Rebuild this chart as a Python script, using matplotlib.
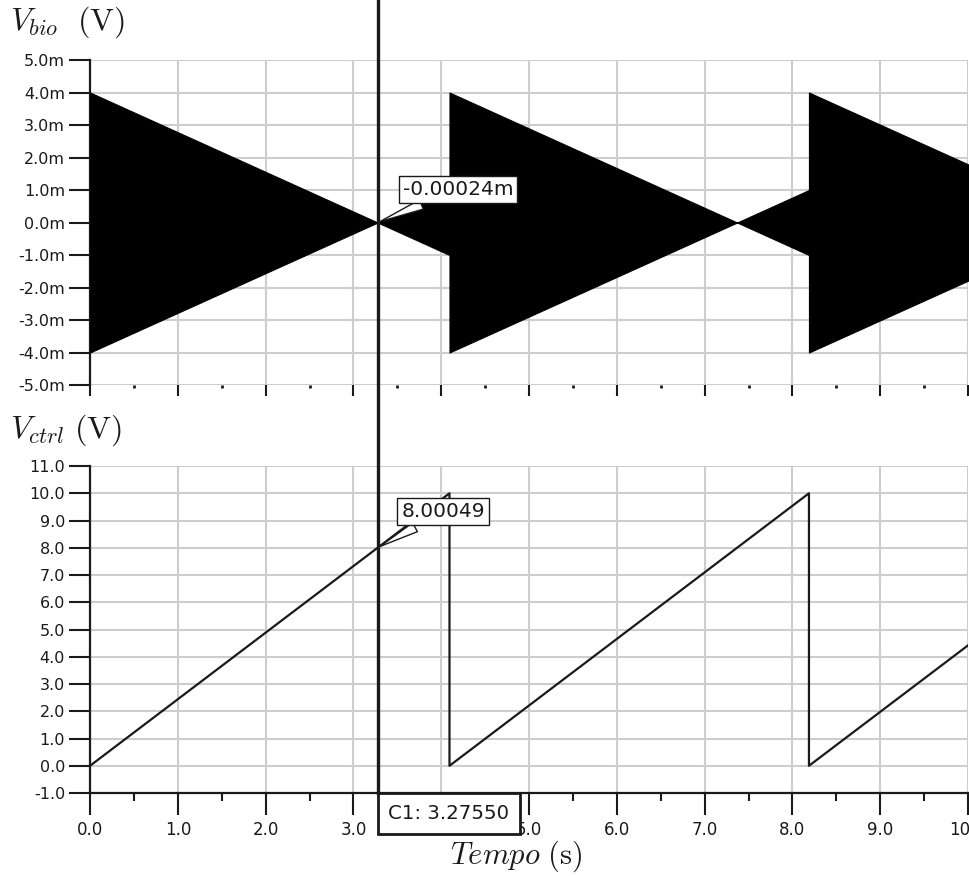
import numpy as np
import matplotlib
matplotlib.use("Agg")
import matplotlib.pyplot as plt
import matplotlib.transforms as mtransforms
from matplotlib.lines import Line2D

plt.rcParams['mathtext.fontset'] = 'cm'

# envelope of V_bio (amplitude in mV) at its break points
t_env = [0.0, 3.2755, 4.094, 4.094, 7.37, 8.188, 8.188, 10.0]
amp_env = [4.0, 0.0, 1.0, 4.0, 0.0, 1.0, 4.0, 1.79]

# V_ctrl sawtooth break points
t_ctrl = [0.0, 4.094, 4.094, 8.188, 8.188, 10.0]
v_ctrl = [0.0, 10.0, 0.0, 10.0, 0.0, 4.42]

cursor_t = 3.2755
cursor_vbio = -0.00024
cursor_vctrl = 8.00049

bio_ticks = np.arange(-5, 6, 1)
ctrl_ticks = np.arange(-1, 12, 1)
x_ticks = np.arange(0, 11, 1)

dark = '#1a1a1a'
grid_c = '#cdcdcd'

fig = plt.figure(figsize=(9.7, 8.76), dpi=100)
ax1 = fig.add_axes([0.0928, 0.5605, 0.9052, 0.371])
ax2 = fig.add_axes([0.0928, 0.0947, 0.9052, 0.3733])

# --- top: V_bio
t = np.array(t_env)
a = np.array(amp_env)
ax1.fill_between(t, -a, a, color='black', lw=0.8, edgecolor='black', zorder=3)
ax1.set_xlim(0, 10)
ax1.set_ylim(-5, 5)
ax1.set_yticks(bio_ticks)
ax1.set_yticklabels([f"{v:.1f}m" for v in bio_ticks])
ax1.set_xticks(x_ticks)
ax1.set_xticklabels([])
ax1.set_xticks(x_ticks[:-1] + 0.5, minor=True)
ax1.tick_params(axis='y', length=15, width=1.5, color=dark, labelsize=11.5,
                labelcolor=dark, pad=3)
ax1.tick_params(axis='x', which='major', length=8, width=1.5, color=dark)
ax1.tick_params(axis='x', which='minor', length=2.5, width=2, color=dark)
for s in ['top', 'right', 'bottom']:
    ax1.spines[s].set_visible(False)
ax1.spines['left'].set_linewidth(1.6)
ax1.spines['left'].set_color(dark)
ax1.grid(True, color=grid_c, lw=1.5)
ax1.set_axisbelow(True)

ax1.annotate(f"{cursor_vbio:.5f}m", xy=(cursor_t, cursor_vbio),
             xytext=(18, 17), textcoords='offset points', ha='left', va='bottom',
             fontsize=14.5, color=dark, zorder=6,
             bbox=dict(boxstyle='square,pad=0.2', fc='white', ec=dark, lw=1),
             arrowprops=dict(arrowstyle='wedge,tail_width=0.5,shrink_factor=0.5',
                             fc='white', ec=dark, lw=1))

# --- bottom: V_ctrl
ax2.plot(t_ctrl, v_ctrl, color=dark, lw=1.6, zorder=3)
ax2.set_xlim(0, 10)
ax2.set_ylim(-1, 11)
ax2.set_yticks(ctrl_ticks)
ax2.set_yticklabels([f"{v:.1f}" for v in ctrl_ticks])
ax2.set_xticks(x_ticks)
ax2.set_xticklabels([f"{v:.1f}" for v in x_ticks])
ax2.set_xticks(x_ticks[:-1] + 0.5, minor=True)
ax2.tick_params(axis='y', length=15, width=1.5, color=dark, labelsize=11.5,
                labelcolor=dark, pad=3)
ax2.tick_params(axis='x', which='major', length=16, width=1.5, color=dark,
                labelsize=12, labelcolor=dark, pad=4)
ax2.tick_params(axis='x', which='minor', length=6, width=1.5, color=dark)
for s in ['top', 'right']:
    ax2.spines[s].set_visible(False)
for s in ['left', 'bottom']:
    ax2.spines[s].set_linewidth(1.6)
    ax2.spines[s].set_color(dark)
ax2.grid(True, color=grid_c, lw=1.5)
ax2.set_axisbelow(True)

ax2.annotate(f"{cursor_vctrl:.5f}", xy=(cursor_t, cursor_vctrl),
             xytext=(17, 19), textcoords='offset points', ha='left', va='bottom',
             fontsize=14.5, color=dark, zorder=6,
             bbox=dict(boxstyle='square,pad=0.2', fc='white', ec=dark, lw=1),
             arrowprops=dict(arrowstyle='wedge,tail_width=0.5,shrink_factor=0.5',
                             fc='white', ec=dark, lw=1))

# cursor line across both panels
bt = mtransforms.blended_transform_factory(ax1.transData, fig.transFigure)
fig.add_artist(Line2D([cursor_t, cursor_t], [ax2.get_position().y0, 1.0],
                      transform=bt, color=dark, lw=2.4, zorder=10))

# cursor read-out box, left edge on the cursor, top edge on the axis
c1_size = 14.2
c1_padf = 0.55
c1_pad = c1_padf * c1_size
bt2 = mtransforms.blended_transform_factory(ax2.transData, ax2.transAxes)
ax2.annotate(f"C1: {cursor_t:.5f}", xy=(cursor_t, 0), xycoords=bt2,
             xytext=(c1_pad, -c1_pad), textcoords='offset points',
             ha='left', va='top', fontsize=c1_size, color=dark,
             zorder=11, annotation_clip=False,
             bbox=dict(boxstyle=f'square,pad={c1_padf}', fc='white', ec=dark, lw=2))

# axis titles
fig.text(10 / 970, 1 - 4 / 876, r"$V_{bio}\ \ (\mathrm{V})$", fontsize=23,
         ha='left', va='top', color=dark)
fig.text(10 / 970, 1 - 412 / 876, r"$V_{ctrl}\ (\mathrm{V})$", fontsize=23,
         ha='left', va='top', color=dark)
fig.text(516 / 970, 2 / 876, r"$Tempo\ (\mathrm{s})$", fontsize=22,
         ha='center', va='bottom', color=dark)

fig.savefig("out.png", dpi=100)
